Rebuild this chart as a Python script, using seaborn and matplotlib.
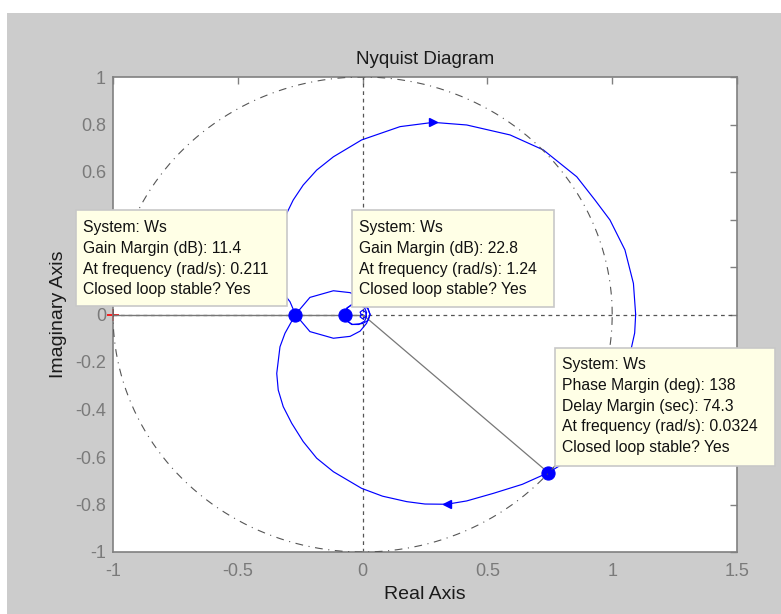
import numpy as np
import pandas as pd
import matplotlib
matplotlib.use("Agg")
import matplotlib.pyplot as plt
from matplotlib.patches import Rectangle
import seaborn as sns

# ---- data ----
# positive-frequency branch: lower big arc from w=0 to first gain crossing
lower_re = [1.094, 1.090, 1.078, 1.051, 0.991, 0.931, 0.858, 0.800, 0.744, 0.640, 0.524,
            0.417, 0.337, 0.250, 0.177, 0.080, -0.004, -0.117, -0.184, -0.238, -0.284,
            -0.318, -0.338, -0.344, -0.331, -0.311, -0.269]
lower_im = [0.000, -0.078, -0.135, -0.272, -0.398, -0.482, -0.580, -0.630, -0.666, -0.715,
            -0.753, -0.785, -0.799, -0.798, -0.788, -0.765, -0.732, -0.662, -0.605, -0.535,
            -0.458, -0.388, -0.318, -0.248, -0.136, -0.079, 0.000]
# negative-frequency branch: upper big arc
upper_re = [1.094, 1.085, 1.051, 0.991, 0.931, 0.858, 0.724, 0.591, 0.417, 0.283, 0.150,
            -0.004, -0.117, -0.184, -0.238, -0.278, -0.304, -0.330, -0.340, -0.325, -0.291,
            -0.269]
upper_im = [0.000, 0.131, 0.272, 0.398, 0.482, 0.580, 0.693, 0.756, 0.798, 0.809, 0.791,
            0.735, 0.664, 0.608, 0.545, 0.482, 0.426, 0.300, 0.200, 0.100, 0.054, 0.000]
# small loops near the origin (positive branch, after the first crossing)
tail_re = [-0.269, -0.211, -0.117, -0.050, -0.010, 0.016, 0.030, 0.022, 0.000, -0.040,
           -0.063, -0.072, -0.060, -0.044, -0.015, 0.008, 0.016, 0.012, 0.000, -0.010,
           -0.006, 0.000]
tail_im = [0.000, 0.072, 0.100, 0.092, 0.070, 0.037, 0.000, -0.025, -0.038, -0.042,
           -0.028, 0.000, 0.028, 0.042, 0.042, 0.028, 0.008, -0.010, -0.018, -0.010,
           0.000, 0.000]

gm_re = [-0.269, -0.0724]
gm_im = [0.0, 0.0]
pm_re = [0.744]
pm_im = [-0.666]

arrow_up = (0.283, 0.809)
arrow_dn = (0.337, -0.799)

x_ticks = [-1, -0.5, 0, 0.5, 1, 1.5]
x_ticklabels = ["-1", "-0.5", "0", "0.5", "1", "1.5"]
y_ticks = [-1, -0.8, -0.6, -0.4, -0.2, 0, 0.2, 0.4, 0.6, 0.8, 1]
# 0.2 and 0.4 are hidden behind the first data tip in the reference
y_ticklabels = ["-1", "-0.8", "-0.6", "-0.4", "-0.2", "0", "", "", "0.6", "0.8", "1"]

tip1 = ["System: Ws", "Gain Margin (dB): 11.4", "At frequency (rad/s): 0.211",
        "Closed loop stable? Yes"]
tip2 = ["System: Ws", "Gain Margin (dB): 22.8", "At frequency (rad/s): 1.24",
        "Closed loop stable? Yes"]
tip3 = ["System: Ws", "Phase Margin (deg): 138", "Delay Margin (sec): 74.3",
        "At frequency (rad/s): 0.0324", "Closed loop stable? Yes"]

# ---- styling ----
sns.set_style("white")
plt.rcParams['font.family'] = ['Liberation Sans', 'DejaVu Sans']
plt.rcParams['axes.unicode_minus'] = False

W, H = 781, 614
fig = plt.figure(figsize=(W / 100, H / 100), dpi=100, facecolor="white")
fig.patches.append(Rectangle((7 / W, 0), 1 - 7 / W, 1 - 13 / H, transform=fig.transFigure,
                             facecolor="#cccccc", edgecolor="none", zorder=-10))
ax = fig.add_axes([113 / W, 1 - 552 / H, (737 - 113) / W, (552 - 77) / H])
ax.set_facecolor("white")

blue = "#0000ff"
grid_c = "#555555"

# reference lines
ax.axvline(0, color=grid_c, lw=0.9, ls=(0, (3, 3)), zorder=1)
ax.axhline(0, color=grid_c, lw=0.9, ls=(0, (3, 3)), zorder=1)
ax.plot([-1, 0], [0, 0], color="#777777", lw=1.0, zorder=1.5)
ax.plot([0, pm_re[0]], [0, pm_im[0]], color="#777777", lw=0.9, zorder=1.5)

# unit circle (drawn over the data tips, as in the reference)
th = np.linspace(0, 2 * np.pi, 400)
ax.plot(np.cos(th), np.sin(th), color="#555555", lw=0.8, ls=(0, (7, 5, 1, 5)), zorder=6)

# Nyquist curve
def draw(re, im):
    df = pd.DataFrame({"re": re, "im": im})
    sns.lineplot(data=df, x="re", y="im", sort=False, estimator=None, color=blue,
                 lw=0.85, ax=ax, zorder=2)

draw(lower_re, lower_im)
draw(upper_re, upper_im)
draw(tail_re, tail_im)
draw(tail_re, [-v for v in tail_im])

# arrows on the curve
ax.plot([arrow_up[0]], [arrow_up[1]], marker=">", color=blue, ms=6, zorder=3)
ax.plot([arrow_dn[0]], [arrow_dn[1]], marker="<", color=blue, ms=6, zorder=3)

# margin points
pts = pd.DataFrame({"re": gm_re + pm_re, "im": gm_im + pm_im})
sns.scatterplot(data=pts, x="re", y="im", color=blue, s=90, edgecolor=blue, ax=ax, zorder=4)
ax.plot([-1], [0], marker="+", color="red", ms=8, mew=1.2, clip_on=False, zorder=0.5)

ax.set_xlim(-1, 1.5)
ax.set_ylim(-1, 1)
ax.set_xticks(x_ticks)
ax.set_xticklabels(x_ticklabels)
ax.set_yticks(y_ticks)
ax.set_yticklabels(y_ticklabels)
ax.tick_params(direction="in", length=5, width=1, colors="#808080", labelsize=13,
               top=True, right=True, labelcolor="#7a7a7a")
ax.tick_params(axis="x", pad=8)
ax.tick_params(axis="y", pad=5)
for s in ax.spines.values():
    s.set_color("#808080")
    s.set_linewidth(1.2)
ax.set_xlabel("Real Axis", fontsize=14, color="#1a1a1a", labelpad=4)
ax.set_ylabel("Imaginary Axis", fontsize=14, color="#1a1a1a", labelpad=6)
ax.set_title("Nyquist Diagram", fontsize=13.5, color="#1a1a1a", pad=9)

# data tips
def tip(x0, y0, x1, y1, tx, ty0, lines):
    fig.patches.append(Rectangle((x0 / W, 1 - y1 / H), (x1 - x0) / W, (y1 - y0) / H,
                                 transform=fig.transFigure, facecolor="#ffffe6",
                                 edgecolor="#c8c8c8", lw=1.2, zorder=5))
    for i, t in enumerate(lines):
        fig.text(tx / W, 1 - (ty0 + i * 20.6) / H, t, fontsize=11.3, color="#111111",
                 va="center", ha="left", zorder=5.5)

tip(76, 210, 287, 306, 83, 228, tip1)
tip(352, 210, 554, 307, 359, 228, tip2)
tip(555, 348, 775, 466, 562, 365, tip3)

fig.savefig("out.png", dpi=100, facecolor=fig.get_facecolor())
